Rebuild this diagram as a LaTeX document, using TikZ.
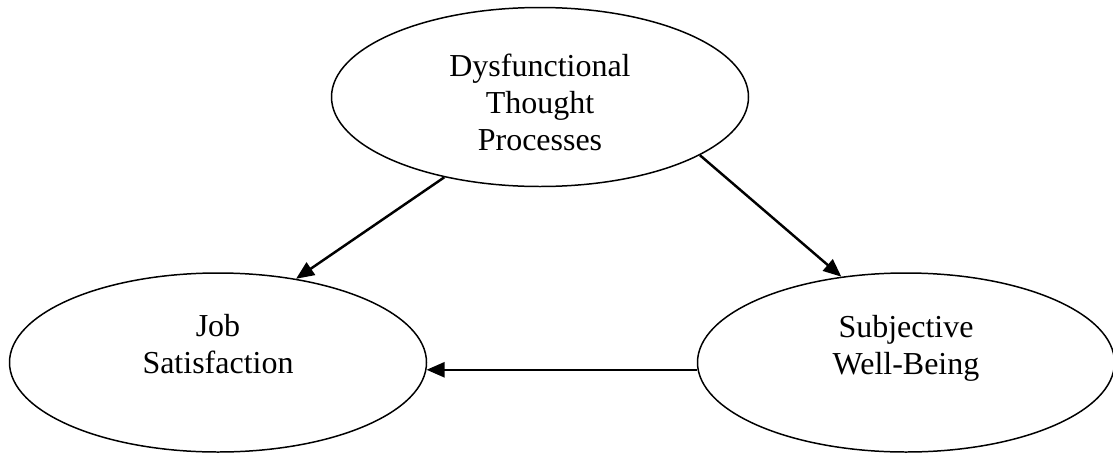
\documentclass[tikz,border=0pt]{standalone}
\usepackage{fontspec}
\setmainfont{Liberation Serif}
\usetikzlibrary{shapes.geometric,arrows.meta}

\begin{document}
\begin{tikzpicture}[
	% Ellipses, their texts and the arrows between them
	oval/.style={draw, ellipse, line width=0.85pt, minimum width=8.34cm, minimum height=3.58cm, inner sep=0pt},
	caption/.style={align=center, font=\fontsize{18.2}{21}\selectfont, inner sep=0pt},
	link/.style={-{Triangle[length=0.36cm, width=0.3cm]}, line width=1.4pt}
	]
	\useasboundingbox (0,0) rectangle (22.26,9.08);
	\pgfmathsetmacro{\LowerY}{1.83}
	\node[oval] (dtp) at (10.8,7.14) {};
	\node[oval] (job) at (4.36,\LowerY) {};
	\node[oval] (swb) at (18.12,\LowerY) {};
	\node[caption] (dtp-text) at ([yshift=-0.1cm]dtp.center) {Dysfunctional\\Thought\\Processes};
	\node[caption] (job-text) at ([yshift=0.36cm]job.center) {Job\\Satisfaction};
	\node[caption] (swb-text) at ([yshift=0.29cm]swb.center) {Subjective\\Well-Being};
	\draw[link] (dtp.220) -- (job.47);
	\draw[link] (dtp.340) -- (swb.127);
	\draw[link] (swb.182) -- (job.358);
\end{tikzpicture}
\end{document}
